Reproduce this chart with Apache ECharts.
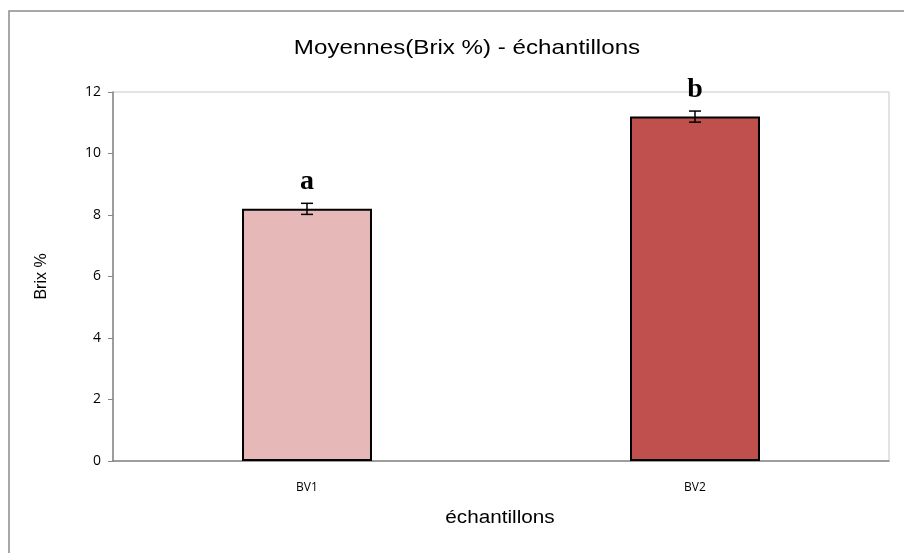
<!DOCTYPE html>
<html>
<head>
<meta charset="utf-8">
<script src="https://cdn.jsdelivr.net/npm/echarts@6/dist/echarts.min.js"></script>
<style>
  html, body { margin: 0; padding: 0; background: #fff; }
  #chart { width: 904px; height: 553px; }
</style>
</head>
<body>
<div id="chart"></div>
<script>
// données
const categories = ['BV1', 'BV2'];
const means = [8.2, 11.2];
const errors = [0.18, 0.18];
const letters = ['a', 'b'];
const barColors = ['#E6B9B8', '#C0504D'];

const chart = echarts.init(document.getElementById('chart'));

// le texte de l'original est un peu étiré en largeur
const stretch = 1.15;

chart.setOption({
  animation: false,
  backgroundColor: '#fff',
  graphic: [
    {
      type: 'rect',
      shape: { x: 9, y: 11, width: 900, height: 560 },
      style: { fill: null, stroke: '#8c8c8c', lineWidth: 1.5 },
      silent: true
    },
    {
      type: 'text',
      x: 467, y: 48, scaleX: stretch,
      style: {
        text: 'Moyennes(Brix %) - échantillons',
        font: '21px "Liberation Sans"',
        fill: '#000',
        textAlign: 'center',
        textVerticalAlign: 'middle'
      }
    },
    {
      type: 'text',
      x: 500, y: 518, scaleX: stretch,
      style: {
        text: 'échantillons',
        font: '18px "Liberation Sans"',
        fill: '#000',
        textAlign: 'center',
        textVerticalAlign: 'middle'
      }
    }
  ],
  grid: { left: 113, right: 15, top: 92, bottom: 92, show: true, borderColor: '#c8c8c8', borderWidth: 1 },
  xAxis: {
    type: 'category',
    data: categories,
    axisLine: { lineStyle: { color: '#868686', width: 1.5 } },
    axisTick: { length: 5, lineStyle: { color: '#868686' } },
    axisLabel: { margin: 21, fontFamily: 'Open Sans', fontSize: 12, color: '#000' }
  },
  yAxis: {
    type: 'value',
    min: 0,
    max: 12,
    interval: 2,
    name: 'Brix %',
    nameLocation: 'middle',
    nameGap: 63,
    nameTextStyle: { fontFamily: 'Liberation Sans', fontSize: 16, color: '#000' },
    splitLine: { show: false },
    axisLine: { show: true, lineStyle: { color: '#868686', width: 1.5 } },
    axisTick: { show: true, length: 5, lineStyle: { color: '#868686' } },
    axisLabel: { margin: 12, fontFamily: 'Open Sans', fontSize: 14, color: '#000' }
  },
  series: [
    {
      type: 'bar',
      barWidth: '33.5%',
      data: means.map((v, i) => ({
        value: v,
        itemStyle: { color: barColors[i], borderColor: '#000', borderWidth: 2 }
      })),
      label: {
        show: true,
        position: 'top',
        distance: 13,
        formatter: p => letters[p.dataIndex],
        fontFamily: 'Liberation Serif',
        fontWeight: 'bold',
        fontSize: 28,
        color: '#000'
      }
    },
    {
      type: 'custom',
      z: 10,
      data: means.map((v, i) => [i, v - errors[i], v + errors[i]]),
      renderItem: (params, api) => {
        const lo = api.coord([api.value(0), api.value(1)]);
        const hi = api.coord([api.value(0), api.value(2)]);
        const w = 6;
        const style = { stroke: '#000', lineWidth: 1.5 };
        return {
          type: 'group',
          children: [
            { type: 'line', shape: { x1: hi[0], y1: hi[1], x2: lo[0], y2: lo[1] }, style },
            { type: 'line', shape: { x1: hi[0] - w, y1: hi[1], x2: hi[0] + w, y2: hi[1] }, style },
            { type: 'line', shape: { x1: lo[0] - w, y1: lo[1], x2: lo[0] + w, y2: lo[1] }, style }
          ]
        };
      }
    }
  ]
});
</script>
</body>
</html>
